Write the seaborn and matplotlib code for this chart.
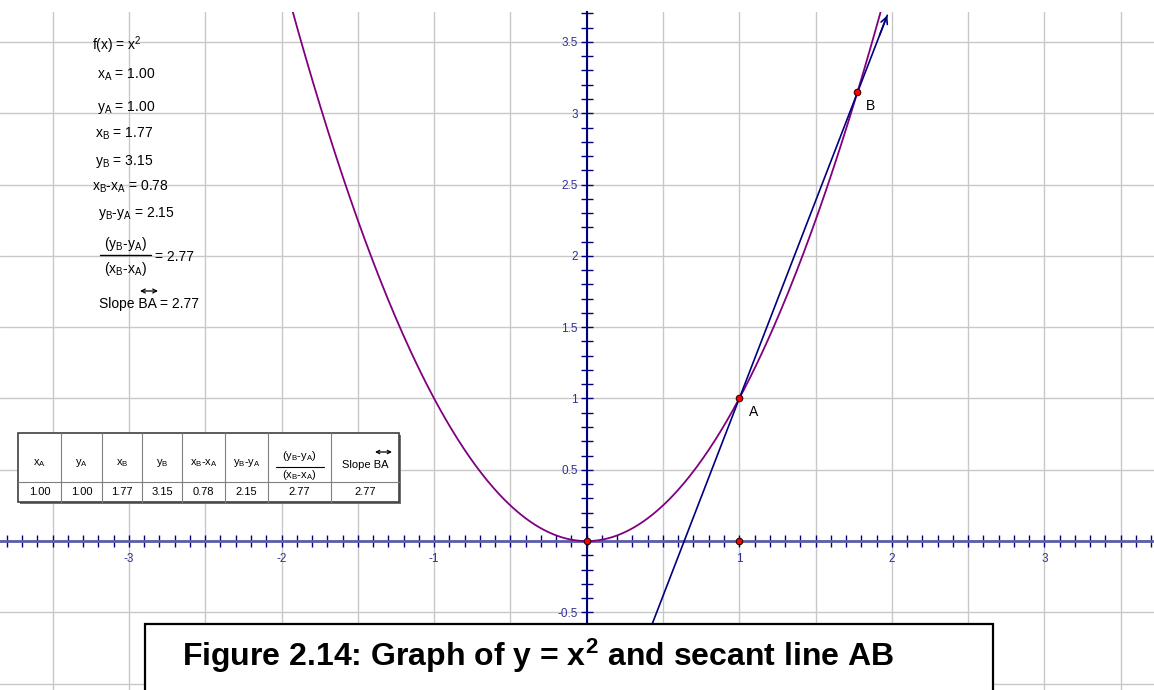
import numpy as np
import matplotlib.pyplot as plt
import seaborn as sns
from matplotlib.ticker import MultipleLocator, FuncFormatter
from matplotlib.patches import Rectangle, FancyArrowPatch
from matplotlib.lines import Line2D

# values shown in the figure
x_a, y_a = 1.00, 1.00
x_b, y_b = 1.77, 3.15
dx, dy = 0.78, 2.15
ratio = 2.77
slope = 2.77
axis_pts_x = [0.0, 1.0]
axis_pts_y = [0.0, 0.0]
curve_lo, curve_hi = -1.95, 1.95
secant_end_x = 1.97

col_labels = ['x$_A$', 'y$_A$', 'x$_B$', 'y$_B$', 'x$_B$-x$_A$', 'y$_B$-y$_A$', 'FRAC', 'Slope BA']
row_values = [x_a, y_a, x_b, y_b, dx, dy, ratio, slope]
frac_top = '(y$_B$-y$_A$)'
frac_bot = '(x$_B$-x$_A$)'
caption = 'Figure 2.14: Graph of y = x$^2$ and secant line AB'

sns.set_style('white')
plt.rcParams['font.family'] = ['Liberation Sans', 'DejaVu Sans']
plt.rcParams['mathtext.default'] = 'regular'
plt.rcParams['axes.unicode_minus'] = False
plt.rcParams['text.color'] = 'black'

W, H = 1154, 690
fig = plt.figure(figsize=(W / 100, H / 100), dpi=100)
ax = fig.add_axes([0, 0, 1, 678 / H])


def fx(x):
    return x / W


def fy(y):
    return 1 - y / H


def dbl_arrow(x0, x1, y, scale=7):
    fig.add_artist(FancyArrowPatch((fx(x0), fy(y)), (fx(x1), fy(y)), transform=fig.transFigure,
                                   arrowstyle='<->', mutation_scale=scale, lw=0.9,
                                   color='black', shrinkA=0, shrinkB=0))


ax.set_xlim(-3.845, 3.718)
ax.set_ylim(-1.044, 3.710)

navy = '#000080'

# parabola
xs = np.linspace(curve_lo, curve_hi, 400)
sns.lineplot(x=xs, y=xs ** 2, color='#800080', lw=1.3, ax=ax, zorder=3)

# secant line through A and B
y_bottom = ax.get_ylim()[0]
sx = np.array([(y_bottom - y_a) / slope + x_a, secant_end_x])
sy = y_a + slope * (sx - x_a)
ax.plot(sx, sy, color=navy, lw=1.2, zorder=3, clip_on=False)
ax.annotate('', xy=(sx[1], sy[1]), xytext=(sx[1] - 0.05, sy[1] - 0.05 * slope),
            arrowprops=dict(arrowstyle='->', color=navy, lw=1.2, shrinkA=0, shrinkB=0,
                            mutation_scale=12),
            annotation_clip=False)

# points
sns.scatterplot(x=axis_pts_x + [x_a, x_b], y=axis_pts_y + [y_a, y_b], color='red',
                edgecolor='#300000', linewidth=0.8, s=22, ax=ax, zorder=5, clip_on=False)
ax.annotate('A', (x_a, y_a), xytext=(14, -14), textcoords='offset pixels',
            ha='center', va='center', fontsize=10, color='black')
ax.annotate('B', (x_b, y_b), xytext=(14, -14), textcoords='offset pixels',
            ha='center', va='center', fontsize=10, color='black')

# axes through origin
for s in ['top', 'right']:
    ax.spines[s].set_visible(False)
ax.spines['left'].set_position(('data', 0))
ax.spines['bottom'].set_position(('data', 0))
ax.spines['left'].set_color(navy)
ax.spines['left'].set_linewidth(1.5)
ax.spines['bottom'].set_color('#5c5cac')
ax.spines['bottom'].set_linewidth(2)

for axis in [ax.xaxis, ax.yaxis]:
    axis.set_major_locator(MultipleLocator(0.5))
    axis.set_minor_locator(MultipleLocator(0.1))


def xfmt(v, p):
    if abs(v - round(v)) < 1e-6 and round(v) != 0:
        return '%d' % round(v)
    return ''


def yfmt(v, p):
    if abs(v) < 1e-6 or abs(v + 1) < 1e-6:
        return ''
    return '%g' % v


ax.xaxis.set_major_formatter(FuncFormatter(xfmt))
ax.yaxis.set_major_formatter(FuncFormatter(yfmt))
ax.tick_params(which='both', bottom=True, left=True, direction='inout', length=8, width=1,
               color=navy, labelsize=8.5, labelcolor='#30309a')
ax.tick_params(axis='x', pad=4.7)
ax.tick_params(axis='y', pad=2.3)
ax.grid(which='major', color='#c8c8c8', lw=1)
ax.set_axisbelow(True)

# text block, top left
block = [
    ('f(x) = x$^2$', 92, 45),
    ('x$_A$ = %.2f' % x_a, 97, 75),
    ('y$_A$ = %.2f' % y_a, 97, 108),
    ('x$_B$ = %.2f' % x_b, 95, 134),
    ('y$_B$ = %.2f' % y_b, 95, 161),
    ('x$_B$-x$_A$ = %.2f' % dx, 92, 187),
    ('y$_B$-y$_A$ = %.2f' % dy, 98, 214),
    ('= %.2f' % ratio, 155, 257),
    ('Slope BA = %.2f' % slope, 99, 304),
]
for txt, px, py in block:
    fig.text(fx(px), fy(py), txt, ha='left', va='center', fontsize=10)
fig.text(fx(125), fy(244), frac_top, ha='center', va='center', fontsize=10)
fig.text(fx(125), fy(269), frac_bot, ha='center', va='center', fontsize=10)
fig.add_artist(Line2D([fx(100), fx(151)], [fy(254.5), fy(254.5)], color='black', lw=1))
dbl_arrow(140, 158, 291)

# table
col_edges = [18, 61, 102, 142, 182, 225, 268, 331, 399]
t_top, t_mid, t_bot = 433, 482, 502
fig.add_artist(Rectangle((fx(col_edges[0] + 2), fy(t_bot + 2)),
                         (col_edges[-1] - col_edges[0]) / W, (t_bot - t_top) / H,
                         transform=fig.transFigure, fc='#707070', ec='none'))
fig.add_artist(Rectangle((fx(col_edges[0]), fy(t_bot)),
                         (col_edges[-1] - col_edges[0]) / W, (t_bot - t_top) / H,
                         transform=fig.transFigure, fc='white', ec='#404040', lw=1.2))
for e in col_edges[1:-1]:
    fig.add_artist(Line2D([fx(e), fx(e)], [fy(t_top), fy(t_bot)], color='#808080', lw=0.8))
fig.add_artist(Line2D([fx(col_edges[0]), fx(col_edges[-1])], [fy(t_mid), fy(t_mid)],
                      color='#808080', lw=0.8))

for i, lab in enumerate(col_labels):
    cx = (col_edges[i] + col_edges[i + 1]) / 2
    if lab == 'FRAC':
        fig.text(fx(cx), fy(456), frac_top, ha='center', va='center', fontsize=8)
        fig.text(fx(cx), fy(475), frac_bot, ha='center', va='center', fontsize=8)
        fig.add_artist(Line2D([fx(cx - 24), fx(cx + 24)], [fy(466.5), fy(466.5)],
                              color='black', lw=0.8))
    elif lab == 'Slope BA':
        fig.text(fx(cx), fy(465), lab, ha='center', va='center', fontsize=8)
        dbl_arrow(cx + 10, cx + 27, 452, scale=6)
    else:
        fig.text(fx(cx), fy(463), lab, ha='center', va='center', fontsize=8)
    fig.text(fx(cx), fy(492), '%.2f' % row_values[i], ha='center', va='center', fontsize=8)

# caption box
fig.add_artist(Rectangle((fx(145), fy(700)), (993 - 145) / W, (700 - 624) / H,
                         transform=fig.transFigure, fc='white', ec='black', lw=1.6))
fig.text(fx(182), fy(666), caption, ha='left', va='baseline', fontsize=23,
         fontweight='bold', color='black')

fig.savefig('out.png', dpi=100)
